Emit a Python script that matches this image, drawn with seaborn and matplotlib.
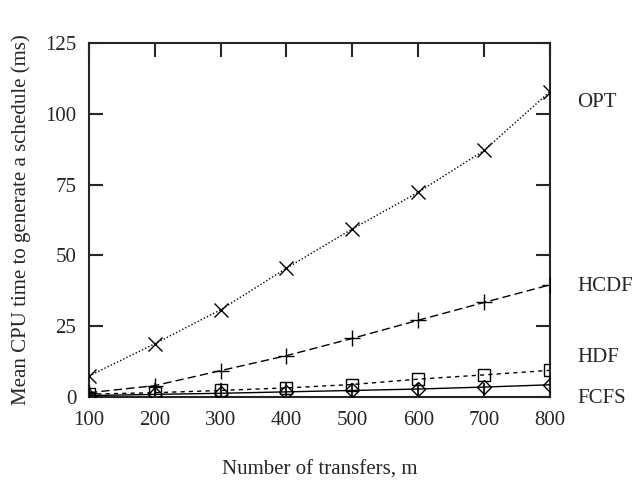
import matplotlib
matplotlib.use("Agg")
import matplotlib.pyplot as plt
import seaborn as sns
import pandas as pd

transfers = [100, 200, 300, 400, 500, 600, 700, 800]
opt = [7.4, 18.8, 30.8, 45.5, 59.4, 72.3, 87.1, 107.9]
hcdf = [1.5, 4.0, 9.3, 14.6, 20.7, 27.1, 33.4, 39.6]
hdf = [1.0, 1.5, 2.3, 3.2, 4.4, 6.3, 7.8, 9.4]
fcfs = [0.5, 0.9, 1.3, 1.8, 2.3, 2.8, 3.5, 4.3]
series_names = ["OPT", "HCDF", "HDF", "FCFS"]
x_ticks = [100, 200, 300, 400, 500, 600, 700, 800]
y_ticks = [0, 25, 50, 75, 100, 125]

sns.set_style("ticks")
plt.rcParams["font.family"] = ["Liberation Serif", "DejaVu Serif"]

df = pd.DataFrame({
    "m": transfers * 4,
    "time": opt + hcdf + hdf + fcfs,
    "series": sum([[n] * len(transfers) for n in series_names], []),
})

fig = plt.figure(figsize=(6.35, 4.8), dpi=100)
ax = fig.add_axes([0.140, 0.173, 0.726, 0.737])

styles = {
    "OPT": dict(ls=(0, (1, 1.5)), marker="x", ms=10, lw=1.0),
    "HCDF": dict(ls=(0, (6, 3)), marker="+", ms=12, lw=1.0),
    "HDF": dict(ls=(0, (3, 3)), marker="s", ms=9, lw=1.0),
    "FCFS": dict(ls="-", marker="D", ms=7, lw=1.0),
}
label_y = {"OPT": 104, "HCDF": 39, "HDF": 14, "FCFS": -0.5}
for name in series_names:
    st = styles[name]
    sub = df[df["series"] == name]
    sns.lineplot(data=sub, x="m", y="time", ax=ax, color="black",
                 linestyle=st["ls"], marker=st["marker"], markersize=st["ms"],
                 linewidth=st["lw"], markerfacecolor="none", markeredgecolor="black",
                 markeredgewidth=1.0, legend=False, zorder=3)
    ax.text(1.06, label_y[name], name, transform=ax.get_yaxis_transform(),
            fontsize=15, va="center", ha="left")

ax.set_xlim(100, 800)
ax.set_ylim(0, 125)
ax.set_xticks(x_ticks)
ax.set_yticks(y_ticks)
ax.tick_params(direction="in", length=10, width=1.5, top=True, right=True,
               labelsize=15)
ax.tick_params(axis="y", pad=9)
ax.tick_params(axis="x", pad=10)
for s in ax.spines.values():
    s.set_linewidth(1.5)
ax.set_xlabel("Number of transfers, m", fontsize=15, labelpad=22)
ax.set_ylabel("Mean CPU time to generate a schedule (ms)", fontsize=15, labelpad=10)

fig.savefig("out.png", dpi=100)
